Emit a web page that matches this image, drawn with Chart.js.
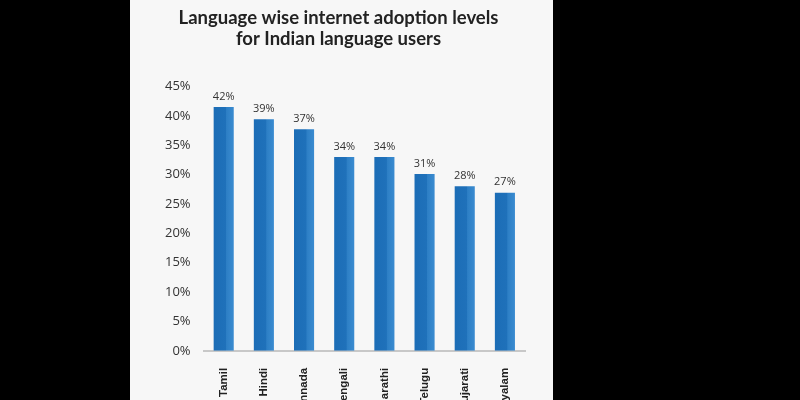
<!DOCTYPE html>
<html>
<head>
<meta charset="utf-8">
<script src="https://cdn.jsdelivr.net/npm/chart.js@4"></script>
<style>
  html, body { margin: 0; padding: 0; background: #000; width: 800px; height: 400px; overflow: hidden; }
  #panel { position: absolute; left: 130px; top: 0; width: 423px; height: 400px; background: #f7f7f7; overflow: hidden; }
  #wrap { position: relative; width: 423px; height: 443px; }
</style>
</head>
<body>
<div id="panel"><div id="wrap"><canvas id="chart"></canvas></div></div>
<script>
// Data
const languages = ['Tamil', 'Hindi', 'Kannada', 'Bengali', 'Marathi', 'Telugu', 'Gujarati', 'Malayalam'];
const adoption = [41.5, 39.4, 37.7, 33.0, 33.0, 30.1, 28.0, 26.9];
const adoptionLabels = ['42%', '39%', '37%', '34%', '34%', '31%', '28%', '27%'];
const titleLines = ['Language wise internet adoption levels', 'for Indian language users'];

const barBase = '#2071bb';

// Horizontal shading inside each bar: darker body, lighter right strip
function barFill(ctx) {
    const chart = ctx.chart;
    const xs = chart.scales.x;
    if (!xs || ctx.dataIndex === undefined || !xs.width) return barBase;
    const cx = xs.getPixelForValue(ctx.dataIndex);
    const w = xs.width / languages.length * 0.5;
    const g = chart.ctx.createLinearGradient(cx - w / 2, 0, cx + w / 2, 0);
    g.addColorStop(0, '#1c6db6');
    g.addColorStop(0.6, '#1f71ba');
    g.addColorStop(0.64, '#2d7fc5');
    g.addColorStop(1, '#3a8bd0');
    return g;
}

// Draw the value text above each bar
const valueLabels = {
    id: 'valueLabels',
    afterDatasetsDraw(chart) {
        const ctx = chart.ctx;
        const meta = chart.getDatasetMeta(0);
        ctx.save();
        ctx.font = '11px "Open Sans", sans-serif';
        ctx.fillStyle = '#333';
        ctx.textAlign = 'center';
        ctx.textBaseline = 'bottom';
        meta.data.forEach((bar, i) => {
            ctx.fillText(adoptionLabels[i], bar.x, bar.y - 5);
        });
        ctx.restore();
    }
};

new Chart(document.getElementById('chart'), {
    type: 'bar',
    data: {
        labels: languages,
        datasets: [{
            data: adoption,
            backgroundColor: barFill,
            barPercentage: 0.5,
            categoryPercentage: 1.0
        }]
    },
    options: {
        responsive: true,
        maintainAspectRatio: false,
        animation: false,
        layout: { padding: { left: 22, right: 28, top: 8, bottom: 0 } },
        plugins: {
            legend: { display: false },
            tooltip: { enabled: false },
            title: {
                display: true,
                text: titleLines,
                color: '#222',
                font: { family: 'Lato, sans-serif', size: 18.5, weight: 'bold', lineHeight: 1.12 },
                padding: { top: 0, bottom: 37 }
            }
        },
        scales: {
            x: {
                grid: { display: false, drawTicks: false },
                border: { color: '#c8c8c8', width: 2 },
                ticks: {
                    color: '#222',
                    maxRotation: 90,
                    minRotation: 90,
                    padding: 17,
                    font: { family: '"Liberation Sans", sans-serif', size: 11.5, weight: 'bold' }
                }
            },
            y: {
                min: 0,
                max: 45,
                grid: { display: false, drawTicks: false },
                border: { display: false },
                ticks: {
                    stepSize: 5,
                    padding: 13,
                    color: '#333',
                    font: { family: '"Open Sans", sans-serif', size: 13 },
                    callback: v => v + '%'
                }
            }
        }
    },
    plugins: [valueLabels]
});
</script>
</body>
</html>
